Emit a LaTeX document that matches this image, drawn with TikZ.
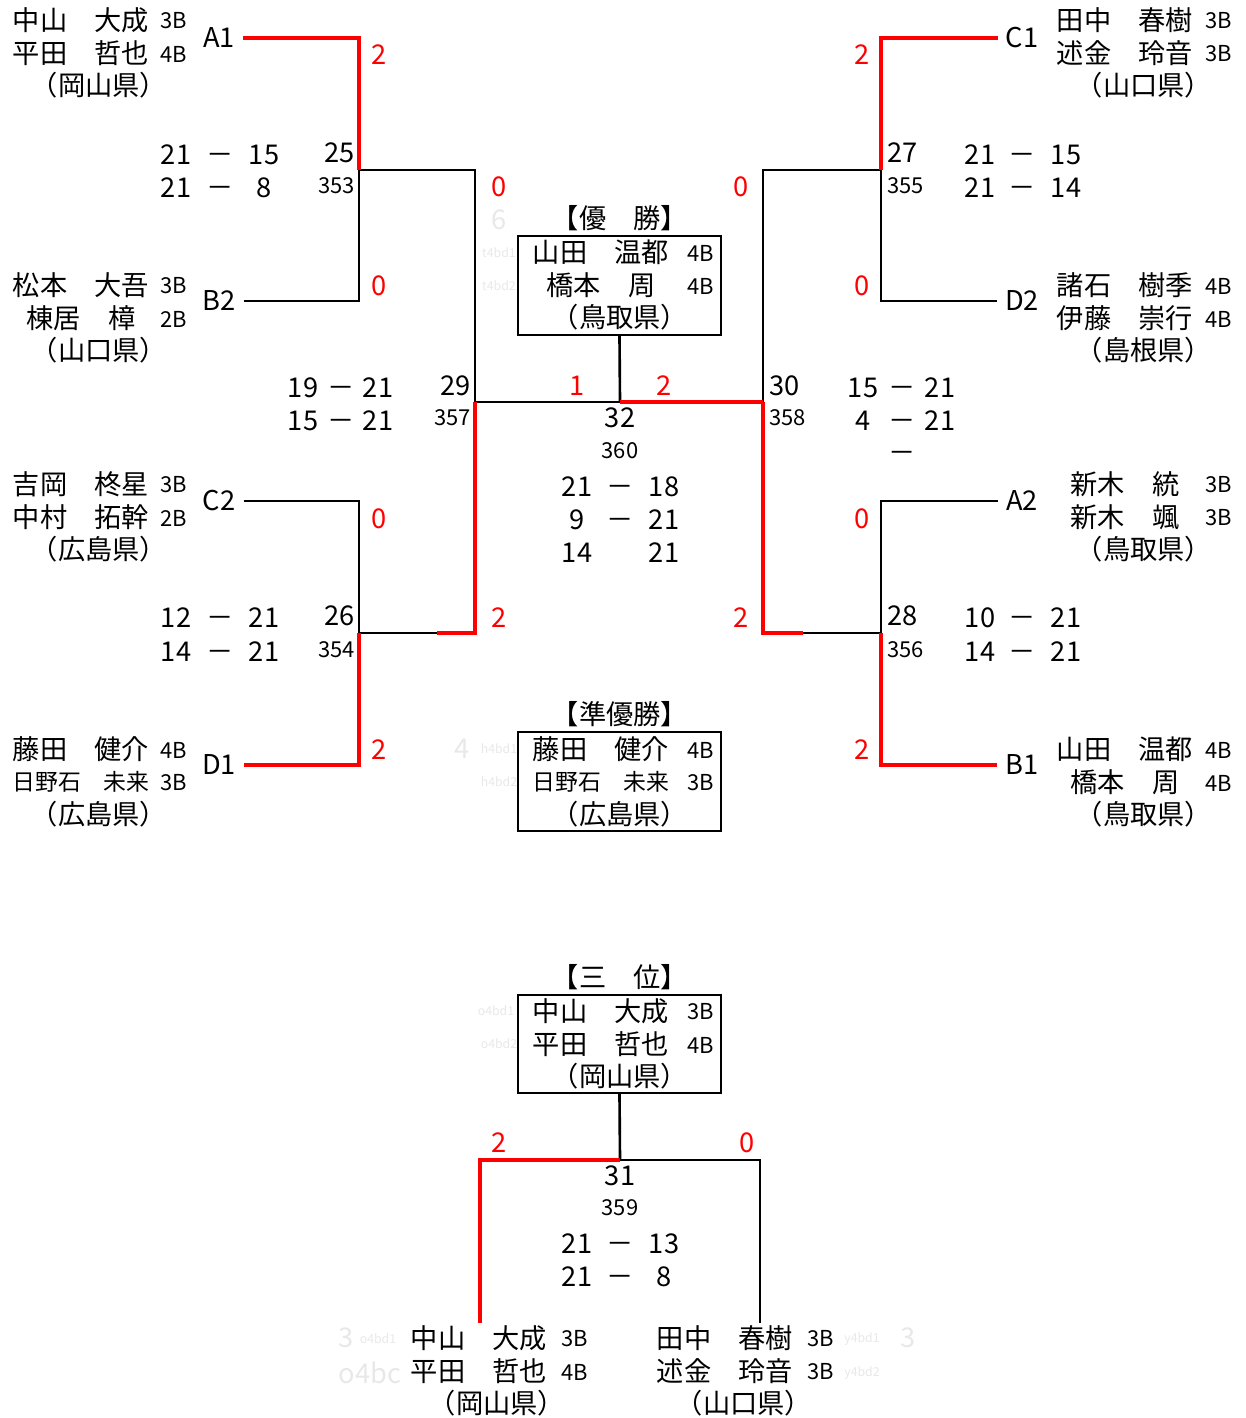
\documentclass[tikz,border=0pt]{standalone}
\usepackage{fontspec}
\setmainfont{Noto Sans CJK JP}
\usepackage{xcolor}
\usepackage{tikz}
\usetikzlibrary{calc}
\definecolor{winred}{RGB}{255,0,0}
\definecolor{ghostgr}{RGB}{232,232,232}
\newcommand\bigfnt{\fontsize{15.5pt}{18pt}\selectfont}
\newcommand\smfnt{\fontsize{12.5pt}{14pt}\selectfont}
\newcommand\narrowfnt{\fontsize{13pt}{15pt}\selectfont}
\newcommand\tinyfnt{\fontsize{7pt}{8pt}\selectfont}

\tikzset{
  win/.style={winred, line width=2.8pt},
  lose/.style={black, line width=1.5pt},
  score/.style={winred, font=\bigfnt},
  entry/.style={font=\bigfnt, inner xsep=4.5pt},
  plname/.style={font=\bigfnt},
  grade/.style={font=\smfnt},
  matchno/.style={font=\bigfnt},
  gameno/.style={font=\smfnt},
  pts/.style={font=\bigfnt, anchor=base},
  ghost/.style={ghostgr, font=\tinyfnt},
  ghostbig/.style={ghostgr, font=\bigfnt},
  resbox/.style={draw, line width=0.6pt, minimum width=4.06cm, minimum height=1.98cm},
}

\begin{document}
\begin{tikzpicture}[x=0.02cm, y=-0.02cm, every node/.style={inner sep=0pt}]
  \useasboundingbox (0,0) rectangle (1246,1418);

  %% result boxes
  \node[resbox] (champ) at (619.5,285.5) {};
  \node[resbox] (second) at (619.5,781.5) {};
  \node[resbox, minimum height=1.96cm] (third) at (619.5,1044) {};
  \node[font=\bigfnt] (champT) at (620,218) {【優　勝】};
  \node[font=\bigfnt] (secondT) at (620,714) {【準優勝】};
  \node[font=\bigfnt] (thirdT) at (620,977) {【三　位】};

  %% players
  \foreach \id/\nx/\gx/\px/\y/\na/\ga/\nb/\gb/\pf in {
      lA1/81/174/99/20/中山　大成/3B/平田　哲也/4B/岡山県,
      lB2/81/174/99/285/松本　大吾/3B/棟居　樟/2B/山口県,
      lC2/81/174/99/484/吉岡　柊星/3B/中村　拓幹/2B/広島県,
      lD1/81/174/99/749/藤田　健介/4B/{\narrowfnt 日野石　未来}/3B/広島県,
      rC1/1125/1219/1144/20/田中　春樹/3B/述金　玲音/3B/山口県,
      rD2/1125/1219/1144/285/諸石　樹季/4B/伊藤　崇行/4B/島根県,
      rA2/1125/1219/1144/484/新木　統/3B/新木　颯/3B/鳥取県,
      rB1/1125/1219/1144/749/山田　温都/4B/橋本　周/4B/鳥取県,
      champ/601/701/620/252/山田　温都/4B/橋本　周/4B/鳥取県,
      second/601/701/620/749/藤田　健介/4B/{\narrowfnt 日野石　未来}/3B/広島県,
      third/601/701/620/1011/中山　大成/3B/平田　哲也/4B/岡山県,
      bL/479/575/497/1338/中山　大成/3B/平田　哲也/4B/岡山県,
      bR/725/821/744/1338/田中　春樹/3B/述金　玲音/3B/山口県} {
    \node[plname] (\id-n1) at (\nx,\y) {\na};
    \node[grade] (\id-g1) at (\gx,\y+1) {\ga};
    \node[plname] (\id-n2) at (\nx,\y+33) {\nb};
    \node[grade] (\id-g2) at (\gx,\y+34) {\gb};
    \node[plname] (\id-p) at (\px,\y+65) {（\pf）};
  }

  %% entry labels
  \node[entry] (A1) at (219,38) {A1};
  \node[entry] (B2) at (219,301) {B2};
  \node[entry] (C2) at (219,501) {C2};
  \node[entry] (D1) at (219,765) {D1};
  \node[entry] (C1) at (1022,38) {C1};
  \node[entry] (D2) at (1022,301) {D2};
  \node[entry] (A2) at (1022,501) {A2};
  \node[entry] (B1) at (1022,765) {B1};

  %% match points
  \coordinate (m25) at (359,170);
  \coordinate (m26) at (359,633);
  \coordinate (m27) at (881,170);
  \coordinate (m28) at (881,633);
  \coordinate (m29) at (475,402);
  \coordinate (m30) at (763,402);
  \coordinate (m32) at (620,402);
  \coordinate (m31) at (620,1160);
  \coordinate (h26) at (437,633);
  \coordinate (h28) at (803,633);
  \coordinate (e31L) at (480,1323);
  \coordinate (e31R) at (760,1323);

  %% losing paths
  \draw[lose] (B2.east) -| (m25);
  \draw[lose] (m25) -| (m29);
  \draw[lose] (C2.east) -| (m26);
  \draw[lose] (m26) -- (h26);
  \draw[lose] (m29) -- (m32);
  \draw[lose] (D2.west) -| (m27);
  \draw[lose] (m27) -| (m30);
  \draw[lose] (A2.west) -| (m28);
  \draw[lose] (h28) -- (m28);
  \draw[lose] (champ.south) -- (m32);
  \draw[lose] (third.south) -- (m31);
  \draw[lose] (m31) -| (e31R);

  %% winning paths
  \draw[win] (A1.east) -| (m25);
  \draw[win] (D1.east) -| (m26);
  \draw[win] (h26) -| (m29);
  \draw[win] (m32) -- (m30);
  \draw[win] (m30) |- (h28);
  \draw[win] (C1.west) -| (m27);
  \draw[win] (B1.west) -| (m28);
  \draw[win] (m31) -| (e31L);

  %% games won
  \foreach \sx/\sy/\st [count=\i] in {379/55/2, 379/286/0, 379/519/0, 379/750/2,
      499/187/0, 499/618/2, 577/386/1, 664/386/2, 741/187/0, 741/618/2,
      862/55/2, 862/286/0, 862/519/0, 862/750/2, 499/1143/2, 747/1143/0}
    \node[score] (s\i) at (\sx,\sy) {\st};

  %% match numbers
  \node[matchno, anchor=east] (n25) at (355,153) {25};
  \node[gameno, anchor=east] (g353) at (355,186) {353};
  \node[matchno, anchor=east] (n26) at (355,616) {26};
  \node[gameno, anchor=east] (g354) at (355,650) {354};
  \node[matchno, anchor=west] (n27) at (887,153) {27};
  \node[gameno, anchor=west] (g355) at (887,186) {355};
  \node[matchno, anchor=west] (n28) at (887,616) {28};
  \node[gameno, anchor=west] (g356) at (887,650) {356};
  \node[matchno, anchor=east] (n29) at (471,386) {29};
  \node[gameno, anchor=east] (g357) at (471,418) {357};
  \node[matchno, anchor=west] (n30) at (769,386) {30};
  \node[gameno, anchor=west] (g358) at (769,418) {358};
  \node[matchno] (n32) at (620,418) {32};
  \node[gameno] (g360) at (620,451) {360};
  \node[matchno] (n31) at (620,1176) {31};
  \node[gameno] (g359) at (620,1208) {359};

  %% game scores (baseline = centre + 10)
  \foreach \sx/\sy/\st [count=\i] in {
      176/154/21, 220/154/－, 264/154/15, 176/187/21, 220/187/－, 264/187/8,
      176/617/12, 220/617/－, 264/617/21, 176/651/14, 220/651/－, 264/651/21,
      980/154/21, 1022/154/－, 1066/154/15, 980/187/21, 1022/187/－, 1066/187/14,
      980/617/10, 1022/617/－, 1066/617/21, 980/651/14, 1022/651/－, 1066/651/21,
      303/387/19, 341/387/－, 378/387/21, 303/420/15, 341/420/－, 378/420/21,
      863/387/15, 902/387/－, 940/387/21, 863/420/4, 902/420/－, 940/420/21,
      902/452/－,
      577/486/21, 620/486/－, 664/486/18, 577/519/9, 620/519/－, 664/519/21,
      577/552/14, 664/552/21,
      577/1243/21, 620/1243/－, 664/1243/13, 577/1276/21, 620/1276/－, 664/1276/8}
    \node[pts] (pt\i) at (\sx,\sy+10) {\st};

  %% faint leftovers
  \node[ghostbig] (gh1) at (499,220) {6};
  \node[ghost] (gh2) at (499,253) {t4bd1};
  \node[ghost] (gh3) at (499,286) {t4bd2};
  \node[ghostbig] (gh4) at (462,749) {4};
  \node[ghost] (gh5) at (499,749) {h4bd1};
  \node[ghost] (gh6) at (499,782) {h4bd2};
  \node[ghost] (gh7) at (496,1011) {o4bd1};
  \node[ghost] (gh8) at (499,1044) {o4bd2};
  \node[ghostbig] (gh9) at (346,1338) {3};
  \node[ghost] (gh10) at (378,1339) {o4bd1};
  \node[ghostbig] (gh11) at (370,1373) {o4bc};
  \node[ghost] (gh12) at (862,1339) {y4bd1};
  \node[ghost] (gh13) at (862,1373) {y4bd2};
  \node[ghostbig] (gh14) at (908,1338) {3};

\end{tikzpicture}
\end{document}
